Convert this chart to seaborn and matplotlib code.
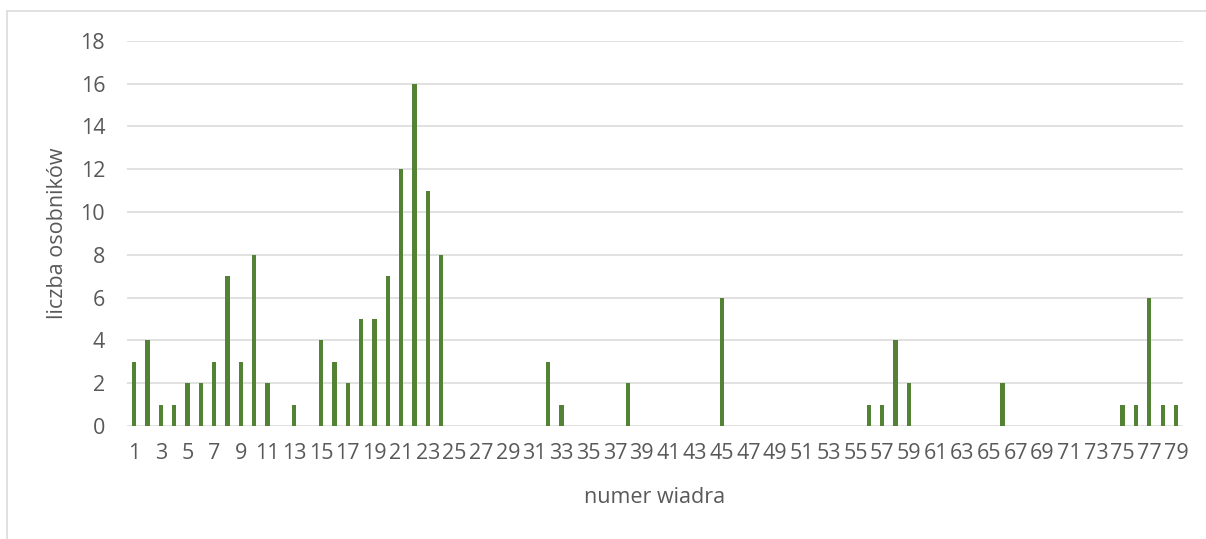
import matplotlib
matplotlib.use("Agg")
import matplotlib.pyplot as plt
from matplotlib.lines import Line2D
import seaborn as sns
import pandas as pd

# bucket numbers and the count of individuals found in each
buckets = list(range(1, 80))
counts = [
    3, 4, 1, 1, 2, 2, 3, 7, 3, 8,
    2, 0, 1, 0, 4, 3, 2, 5, 5, 7,
    12, 16, 11, 8, 0, 0, 0, 0, 0, 0,
    0, 3, 1, 0, 0, 0, 0, 2, 0, 0,
    0, 0, 0, 0, 6, 0, 0, 0, 0, 0,
    0, 0, 0, 0, 0, 1, 1, 4, 2, 0,
    0, 0, 0, 0, 0, 2, 0, 0, 0, 0,
    0, 0, 0, 0, 1, 1, 6, 1, 1,
]
y_ticks = list(range(0, 19, 2))

x_title = "numer wiadra"
y_title = "liczba osobników"

BAR = "#548235"
TEXT = "#595959"
GRID = "#d9d9d9"

sns.set_theme(style="white")
plt.rcParams["font.family"] = ["Open Sans", "DejaVu Sans"]

df = pd.DataFrame({"bucket": [str(b) for b in buckets], "count": counts})

fig = plt.figure(figsize=(12.06, 5.39), dpi=100)
ax = fig.add_axes([0.1056, 0.2096, 0.8751, 0.7149])

sns.barplot(data=df, x="bucket", y="count", order=df["bucket"].tolist(),
            color=BAR, saturation=1, width=0.32, linewidth=0, ax=ax, zorder=3)

ax.set_xlim(-0.5, len(buckets) - 0.5)
ax.set_ylim(0, 18)
ax.set_yticks(y_ticks)
ax.set_yticklabels([str(t) for t in y_ticks])
ax.set_xticks(range(0, len(buckets), 2))
ax.set_xticklabels([str(b) for b in buckets[::2]])

for t in y_ticks:
    ax.axhline(t, color=GRID, lw=1.1, zorder=1)

for s in ax.spines.values():
    s.set_visible(False)

ax.tick_params(axis="both", length=0, colors=TEXT, labelsize=15.5)
ax.tick_params(axis="y", pad=16)
ax.tick_params(axis="x", pad=12)

ax.set_xlabel(x_title, fontsize=15.5, color=TEXT, labelpad=17)
ax.set_ylabel(y_title, fontsize=15.5, color=TEXT, labelpad=9)

# chart-area frame
fig.add_artist(Line2D([7 / 1206, 1.0], [1 - 11 / 539, 1 - 11 / 539],
                      transform=fig.transFigure, color=GRID, lw=1.1))
fig.add_artist(Line2D([7 / 1206, 7 / 1206], [0.0, 1 - 11 / 539],
                      transform=fig.transFigure, color=GRID, lw=1.1))

fig.savefig("out.png", dpi=100, facecolor="white")
